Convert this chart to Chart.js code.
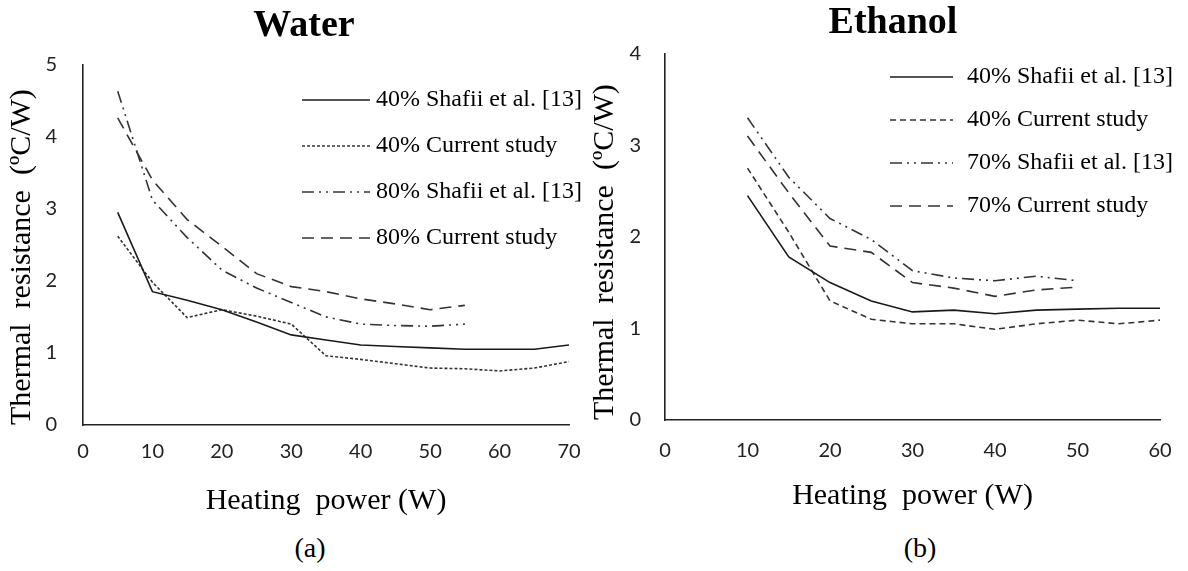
<!DOCTYPE html>
<html>
<head>
<meta charset="utf-8">
<script src="https://cdn.jsdelivr.net/npm/chart.js@4.4.0/dist/chart.umd.min.js"></script>
<style>
  html, body { margin: 0; padding: 0; background: #fff; }
  body { width: 1188px; height: 571px; position: relative; overflow: hidden; }
  .panel { position: absolute; top: 0; height: 530px; }
  #waterBox { left: 0; width: 608px; }
  #ethanolBox { left: 580px; width: 640px; }
  .caption { position: absolute; top: 532px; width: 100px; text-align: center;
             font: 28px "Liberation Serif", serif; color: #000; }
</style>
</head>
<body>
<div class="panel" id="waterBox"><canvas id="waterChart"></canvas></div>
<div class="panel" id="ethanolBox"><canvas id="ethanolChart"></canvas></div>
<div class="caption" style="left:260px">(a)</div>
<div class="caption" style="left:870px">(b)</div>
<script>
// Water panel (a)
const waterPower40 = [5, 10, 15, 20, 25, 30, 35, 40, 45, 50, 55, 60, 65, 70];
const water40Shafii = [2.95, 1.85, 1.73, 1.6, 1.43, 1.25, 1.18, 1.11, 1.09, 1.07, 1.05, 1.05, 1.05, 1.11];
const water40Current = [2.62, 1.98, 1.49, 1.6, 1.51, 1.4, 0.96, 0.91, 0.85, 0.79, 0.78, 0.75, 0.79, 0.88];
const waterPower80 = [5, 10, 15, 20, 25, 30, 35, 40, 45, 50, 55];
const water80Shafii = [4.63, 3.12, 2.6, 2.15, 1.9, 1.7, 1.5, 1.4, 1.38, 1.37, 1.4];
const water80Current = [4.26, 3.4, 2.85, 2.48, 2.1, 1.92, 1.85, 1.75, 1.68, 1.6, 1.66];

// Ethanol panel (b)
const ethanolPower40 = [10, 15, 20, 25, 30, 35, 40, 45, 50, 55, 60];
const ethanol40Shafii = [2.45, 1.78, 1.5, 1.3, 1.18, 1.2, 1.16, 1.2, 1.21, 1.22, 1.22];
const ethanol40Current = [2.75, 2.05, 1.3, 1.1, 1.05, 1.05, 0.99, 1.05, 1.09, 1.05, 1.09];
const ethanolPower70 = [10, 15, 20, 25, 30, 35, 40, 45, 50];
const ethanol70Shafii = [3.3, 2.65, 2.2, 1.97, 1.63, 1.55, 1.52, 1.57, 1.52];
const ethanol70Current = [3.1, 2.48, 1.9, 1.83, 1.5, 1.44, 1.35, 1.42, 1.45];

const waterLabels = ['40% Shafii et al. [13]', '40% Current study', '80% Shafii et al. [13]', '80% Current study'];
const ethanolLabels = ['40% Shafii et al. [13]', '40% Current study', '70% Shafii et al. [13]', '70% Current study'];

const SERIF = '"Liberation Serif", "Times New Roman", serif';
const TICK_FONT = { family: 'Lato, "Liberation Sans", sans-serif', size: 20 };

function points(xs, ys) {
  return xs.map((x, i) => ({ x: x, y: ys[i] }));
}

function series(label, xs, ys, dash, color) {
  return {
    label: label,
    data: points(xs, ys),
    borderColor: color,
    borderWidth: 1.6,
    borderDash: dash,
    pointRadius: 0,
    tension: 0,
    fill: false
  };
}

// legend drawn inside the plot, top right, like the original figure
const insideLegend = {
  id: 'insideLegend',
  afterDatasetsDraw(chart, args, opts) {
    const ctx = chart.ctx;
    ctx.save();
    ctx.font = opts.font;
    ctx.textBaseline = 'middle';
    ctx.fillStyle = '#000';
    chart.data.datasets.forEach((ds, i) => {
      const y = opts.top + i * opts.rowHeight;
      ctx.beginPath();
      ctx.setLineDash(ds.borderDash || []);
      ctx.strokeStyle = ds.borderColor;
      ctx.lineWidth = ds.borderWidth;
      ctx.moveTo(opts.left, y);
      ctx.lineTo(opts.left + opts.lineLength, y);
      ctx.stroke();
      ctx.setLineDash([]);
      ctx.fillText(ds.label, opts.left + opts.lineLength + opts.gap, y);
    });
    ctx.restore();
  }
};

function makeChart(id, cfg) {
  return new Chart(document.getElementById(id), {
    type: 'line',
    data: { datasets: cfg.datasets },
    options: {
      responsive: true,
      maintainAspectRatio: false,
      animation: false,
      layout: { padding: { left: cfg.padLeft, right: cfg.padRight, top: 0, bottom: 0 } },
      plugins: {
        legend: { display: false },
        tooltip: { enabled: false },
        title: {
          display: true,
          text: cfg.title,
          color: '#000',
          font: { family: SERIF, size: 38, weight: 'bold' },
          padding: cfg.titlePad
        },
        insideLegend: cfg.legend
      },
      scales: {
        x: {
          type: 'linear',
          min: 0,
          max: cfg.xMax,
          ticks: { stepSize: 10, color: '#222', font: TICK_FONT, padding: cfg.xTickPad },
          grid: { display: false, drawTicks: false },
          border: { display: true, color: '#222', width: 1.6 },
          title: {
            display: true,
            text: 'Heating  power (W)',
            color: '#000',
            font: { family: SERIF, size: 30 },
            padding: { top: 0, bottom: cfg.xTitlePad }
          },
          afterFit(scale) { scale.height = cfg.xHeight; }
        },
        y: {
          min: 0,
          max: cfg.yMax,
          ticks: { stepSize: 1, color: '#222', font: TICK_FONT, padding: cfg.yTickPad },
          grid: { display: false, drawTicks: false },
          border: { display: true, color: '#222', width: 1.6 },
          title: {
            display: true,
            text: 'Thermal  resistance  (ºC/W)',
            align: 'start',
            color: '#000',
            font: { family: SERIF, size: 30 },
            padding: { top: cfg.yTitlePad, bottom: 0 }
          },
          afterFit(scale) { scale.width = cfg.yWidth; }
        }
      }
    },
    plugins: [insideLegend]
  });
}

makeChart('waterChart', {
  title: 'Water',
  xMax: 70,
  yMax: 5,
  padLeft: 39,
  padRight: 39,
  titlePad: { top: 3, bottom: 16 },
  xHeight: 105,
  yWidth: 44,
  xTickPad: 15,
  yTickPad: 26,
  xTitlePad: 11,
  yTitlePad: -35,
  legend: { left: 302, top: 100, rowHeight: 46, lineLength: 68, gap: 6, font: '24px ' + SERIF },
  datasets: [
    series(waterLabels[0], waterPower40, water40Shafii, [], '#1a1a1a'),
    series(waterLabels[1], waterPower40, water40Current, [3, 2], '#333'),
    series(waterLabels[2], waterPower80, water80Shafii, [12, 5, 2, 5, 2, 5], '#333'),
    series(waterLabels[3], waterPower80, water80Current, [12, 7], '#333')
  ]
});

makeChart('ethanolChart', {
  title: 'Ethanol',
  xMax: 60,
  yMax: 4,
  padLeft: 46,
  padRight: 60,
  titlePad: { top: 0, bottom: 8 },
  xHeight: 110,
  yWidth: 39,
  xTickPad: 19,
  yTickPad: 24,
  xTitlePad: 16,
  yTitlePad: -39,
  legend: { left: 310, top: 77, rowHeight: 43, lineLength: 63, gap: 14, font: '24px ' + SERIF },
  datasets: [
    series(ethanolLabels[0], ethanolPower40, ethanol40Shafii, [], '#1a1a1a'),
    series(ethanolLabels[1], ethanolPower40, ethanol40Current, [6, 4], '#333'),
    series(ethanolLabels[2], ethanolPower70, ethanol70Shafii, [12, 5, 2, 5, 2, 5], '#333'),
    series(ethanolLabels[3], ethanolPower70, ethanol70Current, [12, 7], '#333')
  ]
});
</script>
</body>
</html>
